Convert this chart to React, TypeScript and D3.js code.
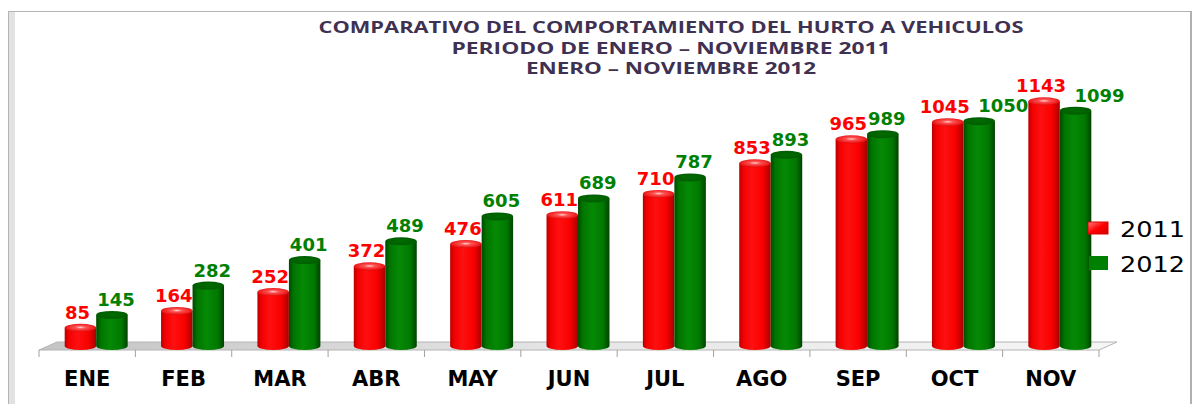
import React from 'react'
import { scaleBand, scaleLinear, range } from 'd3'

const months = ['ENE', 'FEB', 'MAR', 'ABR', 'MAY', 'JUN', 'JUL', 'AGO', 'SEP', 'OCT', 'NOV']
const series = ['2011', '2012']
const values2011 = [85, 164, 252, 372, 476, 611, 710, 853, 965, 1045, 1143]
const values2012 = [145, 282, 401, 489, 605, 689, 787, 893, 989, 1050, 1099]
const titleLines = [
    'COMPARATIVO DEL COMPORTAMIENTO DEL HURTO A VEHICULOS',
    'PERIODO DE ENERO – NOVIEMBRE 2011',
    'ENERO – NOVIEMBRE 2012',
]

const W = 1196
const H = 404
const floorLeft = 39
const floorRight = 1099
const depth = 18 // how far the back edge of the floor sits to the right
const floorFront = 350
const floorBack = 342

const App = () => {
    const x0 = scaleBand<string>().domain(months).range([floorLeft, floorRight])
    const x1 = scaleBand<string>().domain(series).range([0, x0.bandwidth()]).paddingOuter(0.53)
    const y = scaleLinear().domain([0, 1200]).range([346, 89])
    const bw = x1.bandwidth()
    const ry = 4

    const colors: Record<string, string> = { '2011': '#ff0000', '2012': '#008000' }

    const cylinder = (s: string, v: number, i: number) => {
        const left = (x0(months[i]) as number) + (x1(s) as number) + depth / 2
        const top = y(v)
        const base = y(0)
        const cx = left + bw / 2
        const body = `M${left},${top} L${left},${base} A${bw / 2},${ry} 0 0 0 ${left + bw},${base} L${left + bw},${top} Z`
        return (
            <g key={s + i}>
                <path d={body} fill={`url(#body${s})`} />
                <ellipse cx={cx} cy={top} rx={bw / 2} ry={ry} fill={`url(#top${s})`} />
            </g>
        )
    }

    const labelDx = (s: string, v: number) => (s === '2011' ? -3 : v >= 1000 ? 24 : 4)

    const ticks = range(months.length + 1).map(i => floorLeft + i * x0.step())

    return (
        <svg width={W} height={H} style={{ position: 'absolute', left: 0, top: 0, background: '#fff' }}>
            <defs>
                <linearGradient id="body2011" x1="0" x2="1" y1="0" y2="0">
                    <stop offset="0" stopColor="#b80000" />
                    <stop offset="0.12" stopColor="#f00000" />
                    <stop offset="0.4" stopColor="#ff1010" />
                    <stop offset="0.75" stopColor="#f80000" />
                    <stop offset="1" stopColor="#a80000" />
                </linearGradient>
                <linearGradient id="body2012" x1="0" x2="1" y1="0" y2="0">
                    <stop offset="0" stopColor="#004a00" />
                    <stop offset="0.15" stopColor="#007500" />
                    <stop offset="0.45" stopColor="#058a05" />
                    <stop offset="0.8" stopColor="#007800" />
                    <stop offset="1" stopColor="#004200" />
                </linearGradient>
                <radialGradient id="top2011" cx="0.5" cy="0.45" r="0.6">
                    <stop offset="0" stopColor="#ffd0d0" />
                    <stop offset="0.3" stopColor="#ff5050" />
                    <stop offset="1" stopColor="#e00000" />
                </radialGradient>
                <radialGradient id="top2012" cx="0.5" cy="0.5" r="0.6">
                    <stop offset="0" stopColor="#006c00" />
                    <stop offset="1" stopColor="#005a00" />
                </radialGradient>
                <linearGradient id="floor" x1="0" x2="1" y1="0" y2="0">
                    <stop offset="0" stopColor="#c4c4c4" />
                    <stop offset="0.5" stopColor="#e6e6e6" />
                    <stop offset="1" stopColor="#f6f6f6" />
                </linearGradient>
                <linearGradient id="leg2011" x1="0" x2="1" y1="0" y2="1">
                    <stop offset="0" stopColor="#ff8080" />
                    <stop offset="0.5" stopColor="#ff0000" />
                    <stop offset="1" stopColor="#d00000" />
                </linearGradient>
            </defs>

            {/* frame */}
            <rect x={8.5} y={11.5} width={1183} height={400} fill="#fff" stroke="#b4b4b4" />
            <rect x={9} y={12} width={6} height={400} fill="#e2e2e2" />
            <line x1={1191} y1={11} x2={1191} y2={404} stroke="#b0b0b0" strokeWidth={2} />

            {/* title */}
            {titleLines.map((t, i) => (
                <text key={t} x={671} y={33 + i * 20.5} textAnchor="middle" fill="#3f3151"
                    fontFamily="'Open Sans', sans-serif" fontWeight="bold" fontSize={15.5}
                    textLength={[705, 439, 290][i]} lengthAdjust="spacingAndGlyphs">{t}</text>
            ))}

            {/* floor */}
            <path d={`M${floorLeft},${floorFront} L${floorRight},${floorFront} L${floorRight + depth},${floorBack} L${floorLeft + depth},${floorBack} Z`}
                fill="url(#floor)" stroke="#b4b4b4" strokeWidth={1} />
            {ticks.map(t => (
                <line key={t} x1={t} x2={t} y1={floorFront} y2={floorFront + 7} stroke="#a0a0a0" />
            ))}

            {/* bars */}
            {months.map((m, i) => (
                <g key={m}>
                    {cylinder('2011', values2011[i], i)}
                    {cylinder('2012', values2012[i], i)}
                </g>
            ))}

            {/* value labels */}
            {months.map((m, i) => [
                ['2011', values2011[i]],
                ['2012', values2012[i]],
            ].map(([s, v]) => (
                <text key={m + s}
                    x={(x0(m) as number) + (x1(s as string) as number) + depth / 2 + bw / 2 + labelDx(s as string, v as number)}
                    y={y(v as number) - 9} textAnchor="middle" fill={colors[s as string]}
                    fontFamily="'DejaVu Sans', sans-serif" fontWeight="bold" fontSize={18}>{v}</text>
            )))}

            {/* category axis */}
            {months.map(m => (
                <text key={m} x={(x0(m) as number) + x0.bandwidth() / 2} y={386} textAnchor="middle" fill="#000"
                    fontFamily="'DejaVu Sans', sans-serif" fontWeight="bold" fontSize={21}>{m}</text>
            ))}

            {/* legend */}
            <rect x={1088} y={222} width={20} height={12} fill="url(#leg2011)" stroke="#e00000" />
            <text x={1120} y={237} fontFamily="'DejaVu Sans', sans-serif" fontSize={21} textLength={65}
                lengthAdjust="spacingAndGlyphs" fill="#000">2011</text>
            <rect x={1089} y={256} width={19} height={14} fill="#008000" />
            <text x={1120} y={272} fontFamily="'DejaVu Sans', sans-serif" fontSize={21} textLength={65}
                lengthAdjust="spacingAndGlyphs" fill="#000">2012</text>
        </svg>
    )
}

export default App
